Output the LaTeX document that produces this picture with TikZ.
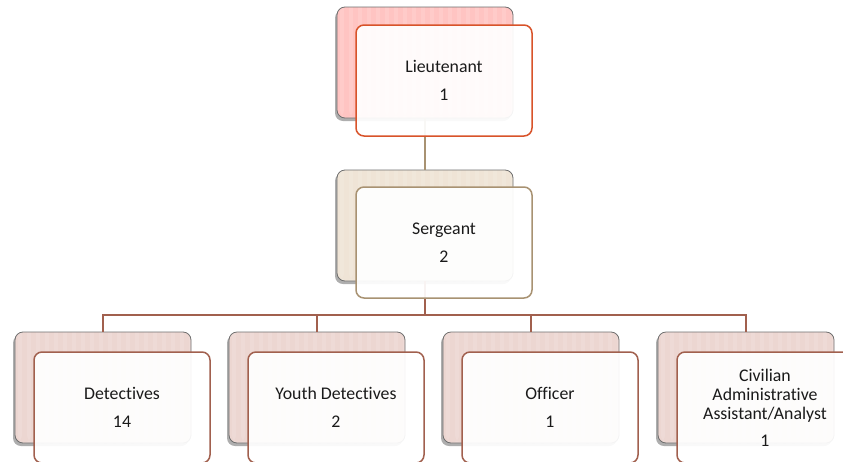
\documentclass[tikz,border=0pt]{standalone}
\usepackage{fontspec}
\setmainfont[Ligatures=NoCommon]{Carlito}
\usetikzlibrary{shadows}
\definecolor{ltback}{HTML}{FFC4C2}
\definecolor{ltline}{HTML}{D8532A}
\definecolor{sgback}{HTML}{EFE4D6}
\definecolor{sgline}{HTML}{A89272}
\definecolor{chback}{HTML}{ECD6D1}
\definecolor{chline}{HTML}{A1604E}
\definecolor{backline}{HTML}{6E6E6E}
\definecolor{txt}{HTML}{1A1A1A}
\tikzset{
  backbox/.style={rectangle, rounded corners=8pt, minimum width=176pt, minimum height=111pt,
    draw=backline, line width=0.8pt, inner sep=0pt,
    drop shadow={shadow xshift=-2pt, shadow yshift=-3pt, opacity=0.45, fill=black!70},
    path picture={\foreach \i in {0,...,19}
      \fill[white,opacity=0.12] ([xshift=\i*9pt+3pt]path picture bounding box.south west) rectangle ++(4pt,200pt);}},
  frontbox/.style={rectangle, rounded corners=8pt, minimum width=176pt, minimum height=111pt,
    line width=1.5pt, fill=white, fill opacity=0.93, text opacity=1, inner sep=0pt,
    align=center, text=txt, font=\fontsize{17.8}{19}\selectfont},
  conn/.style={line width=2pt}
}
\begin{document}
\begin{tikzpicture}[x=1pt,y=-1pt]
\useasboundingbox (0,0) rectangle (843,461);
% back boxes
\node[backbox, fill=ltback] (ltb) at (425,62.5) {};
\node[backbox, fill=sgback] (sgb) at (425,225.5) {};
\node[backbox, fill=chback] (db) at (103,387.5) {};
\node[backbox, fill=chback] (yb) at (317,387.5) {};
\node[backbox, fill=chback] (ob) at (531,387.5) {};
\node[backbox, fill=chback] (cb) at (746,387.5) {};
% connectors
\coordinate (bus) at (425,315);
\draw[conn, sgline] (ltb.south) -- (sgb.north);
\draw[conn, chline] (sgb.south) -- (sgb.south |- bus) -| (db.north);
\draw[conn, chline] (sgb.south |- bus) -| (yb.north);
\draw[conn, chline] (sgb.south |- bus) -| (ob.north);
\draw[conn, chline] (sgb.south |- bus) -| (cb.north);
% front boxes
\node[frontbox, draw=ltline] (lt) at (444,80.5) {Lieutenant\\[9pt]1};
\node[frontbox, draw=sgline] (sg) at (444,242.5) {Sergeant\\[9pt]2};
\node[frontbox, draw=chline] (de) at (122,407.5) {Detectives\\[9pt]14};
\node[frontbox, draw=chline] (yd) at (336,407.5) {Youth Detectives\\[9pt]2};
\node[frontbox, draw=chline] (of) at (550,407.5) {Officer\\[9pt]1};
\node[frontbox, draw=chline] (ci) at (765,407.5) {Civilian\\Administrative\\Assistant/Analyst\\[8pt]1};
\end{tikzpicture}
\end{document}
